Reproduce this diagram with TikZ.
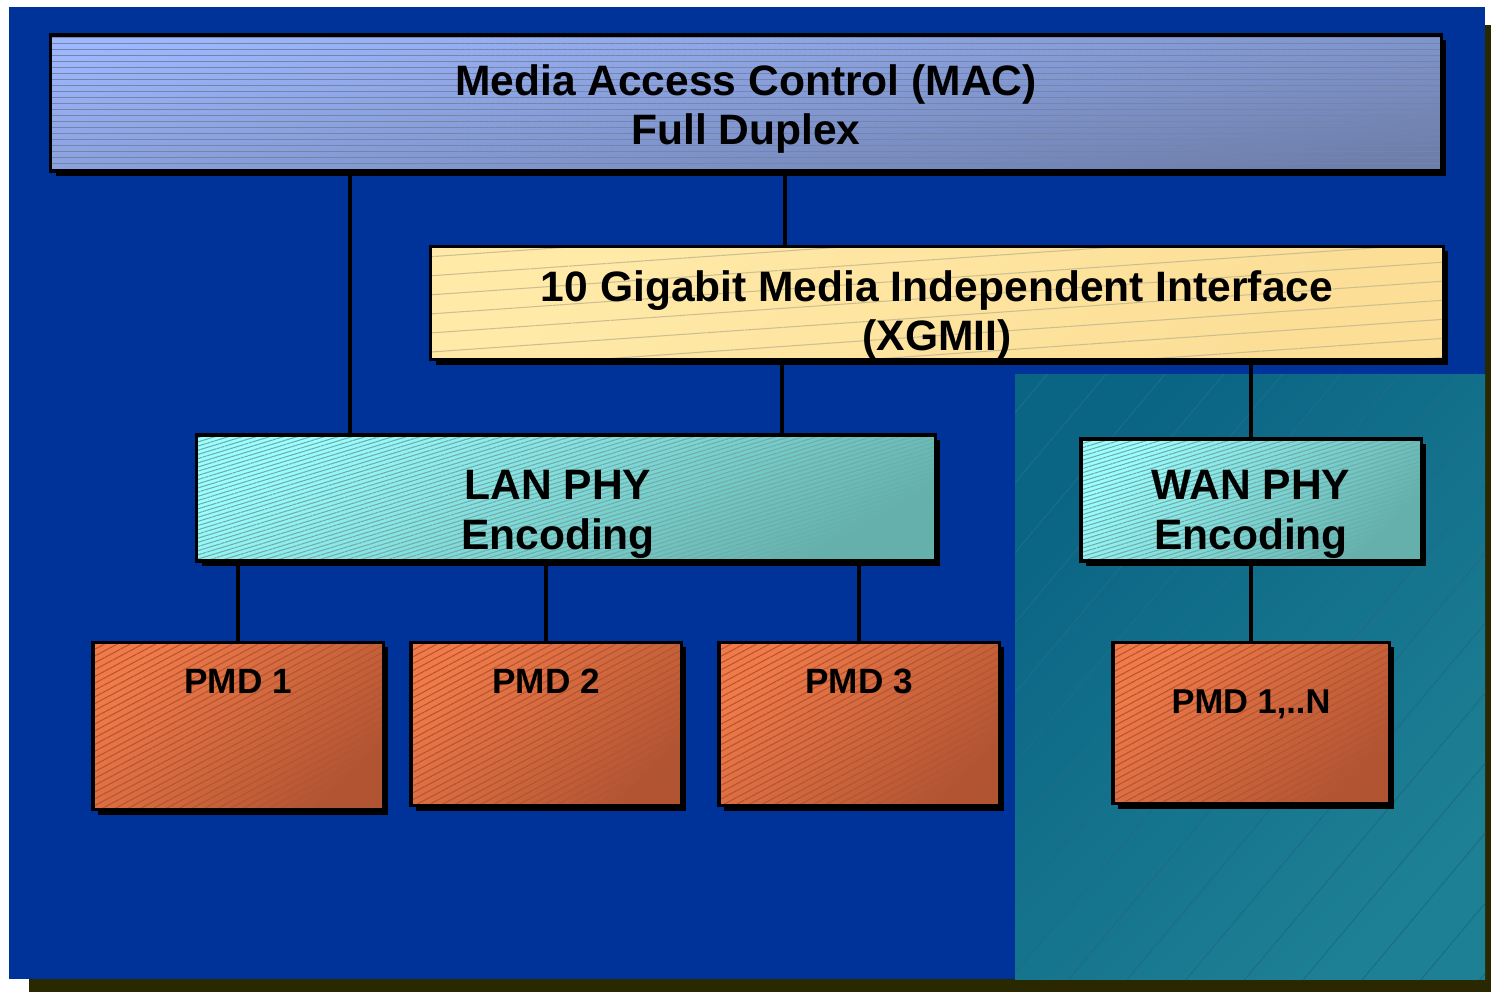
\documentclass[tikz,border=0pt]{standalone}
\usepackage{fontspec}
\setmainfont{Liberation Sans}
\usetikzlibrary{positioning, shadows, patterns.meta}
\definecolor{slideblue}{RGB}{0,51,153}
\definecolor{slideshadow}{RGB}{42,40,0}
\definecolor{wandark}{RGB}{10,100,132}
\definecolor{wanlight}{RGB}{30,128,148}
\definecolor{wanline}{RGB}{28,108,140}
\definecolor{macTop}{RGB}{158,184,255}
\definecolor{macBot}{RGB}{108,126,172}
\definecolor{macLine}{RGB}{118,132,170}
\definecolor{xgTop}{RGB}{255,234,168}
\definecolor{xgBot}{RGB}{252,222,150}
\definecolor{xgLine}{RGB}{205,190,145}
\definecolor{phyTop}{RGB}{155,255,255}
\definecolor{phyBot}{RGB}{98,178,172}
\definecolor{phyLine}{RGB}{112,172,172}
\definecolor{pmdTop}{RGB}{242,122,72}
\definecolor{pmdBot}{RGB}{178,84,50}
\definecolor{pmdLine}{RGB}{176,86,52}

\begin{document}
\begin{tikzpicture}[x=0.01cm, y=-0.01cm, font=\bfseries,
    box/.style={draw=black, line width=0.9pt, inner sep=0pt,
      drop shadow={shadow xshift=0.05cm, shadow yshift=-0.05cm, fill=black, opacity=1}},
    hatch/.style n args={3}{postaction={pattern={Lines[angle=#1, distance=#2, line width=0.3pt]},
      pattern color=#3}},
    rim/.style={postaction={draw=black, line width=0.9pt}},
    big/.style={font=\bfseries\fontsize{12.1pt}{14.2pt}\selectfont, align=center},
    pmd/.style={box, top color=pmdTop, bottom color=pmdBot, shading angle=45,
      hatch={28}{0.06cm}{pmdLine}, rim, font=\bfseries\fontsize{9.1pt}{11pt}\selectfont},
    link/.style={line width=1.4pt, line cap=butt}]
  \useasboundingbox (0,0) rectangle (1491,992);

  % slide background
  \fill[slideshadow] (29,25) rectangle (1491,992);
  \fill[slideblue] (9,7) rectangle (1485,979);
  \shade[top color=wandark, bottom color=wanlight, shading angle=45, hatch={50}{0.45cm}{wanline}]
    (1015,375) rectangle (1485,979);

  % layers
  \node[box, top color=macTop, bottom color=macBot, shading angle=8, hatch={0}{0.06cm}{macLine}, rim,
    minimum width=13.9cm, minimum height=1.36cm,
    label={[big, yshift=-0.06cm]center:Media Access Control (MAC)\\Full Duplex}] (mac) at (746,103) {};
  \node[box, top color=xgTop, bottom color=xgBot, shading angle=45, hatch={4}{0.19cm}{xgLine}, rim,
    minimum width=10.12cm, minimum height=1.13cm,
    label={[big, yshift=-0.12cm]center:10 Gigabit Media Independent Interface\\(XGMII)}] (xgmii) at (937,303) {};
  \node[box, top color=phyTop, bottom color=phyBot, shading angle=30, hatch={17}{0.04cm}{phyLine}, rim,
    minimum width=7.38cm, minimum height=1.26cm,
    label={[big, xshift=-0.08cm, yshift=-0.16cm]center:LAN PHY\\Encoding}] (lan) at (566,498) {};
  \node[box, top color=phyTop, bottom color=phyBot, shading angle=45, hatch={17}{0.04cm}{phyLine}, rim,
    minimum width=3.4cm, minimum height=1.22cm,
    label={[big, yshift=-0.14cm]center:WAN PHY\\Encoding}] (wan) at (1251,500) {};

  \node[pmd, minimum width=2.9cm, minimum height=1.67cm,
    label={[anchor=base, yshift=-0.53cm]north:PMD 1}] (pmd1) at (238,726) {};
  \node[pmd, minimum width=2.7cm, minimum height=1.63cm,
    label={[anchor=base, yshift=-0.53cm]north:PMD 2}] (pmd2) at (546,724) {};
  \node[pmd, minimum width=2.8cm, minimum height=1.63cm,
    label={[anchor=base, yshift=-0.53cm]north:PMD 3}] (pmd3) at (859,724) {};
  \node[pmd, minimum width=2.76cm, minimum height=1.61cm,
    label={[anchor=base, yshift=-0.73cm, font=\bfseries\fontsize{9.8pt}{11pt}\selectfont]north:PMD 1,..N}]
    (pmdn) at (1251,723) {};

  % taps on the wide boxes
  \coordinate (tapmac) at (350,0);
  \coordinate (tapxg) at (785,0);
  \coordinate (taplan) at (782,0);

  \draw[link] (mac.south -| tapmac) -- (lan.north -| tapmac);
  \draw[link] (mac.south -| tapxg) -- (xgmii.north -| tapxg);
  \draw[link] (xgmii.south -| taplan) -- (lan.north -| taplan);
  \draw[link] (xgmii.south -| wan.north) -- (wan.north);
  \draw[link] (lan.south -| pmd1.north) -- (pmd1.north);
  \draw[link] (lan.south -| pmd2.north) -- (pmd2.north);
  \draw[link] (lan.south -| pmd3.north) -- (pmd3.north);
  \draw[link] (wan.south) -- (pmdn.north);
\end{tikzpicture}
\end{document}
